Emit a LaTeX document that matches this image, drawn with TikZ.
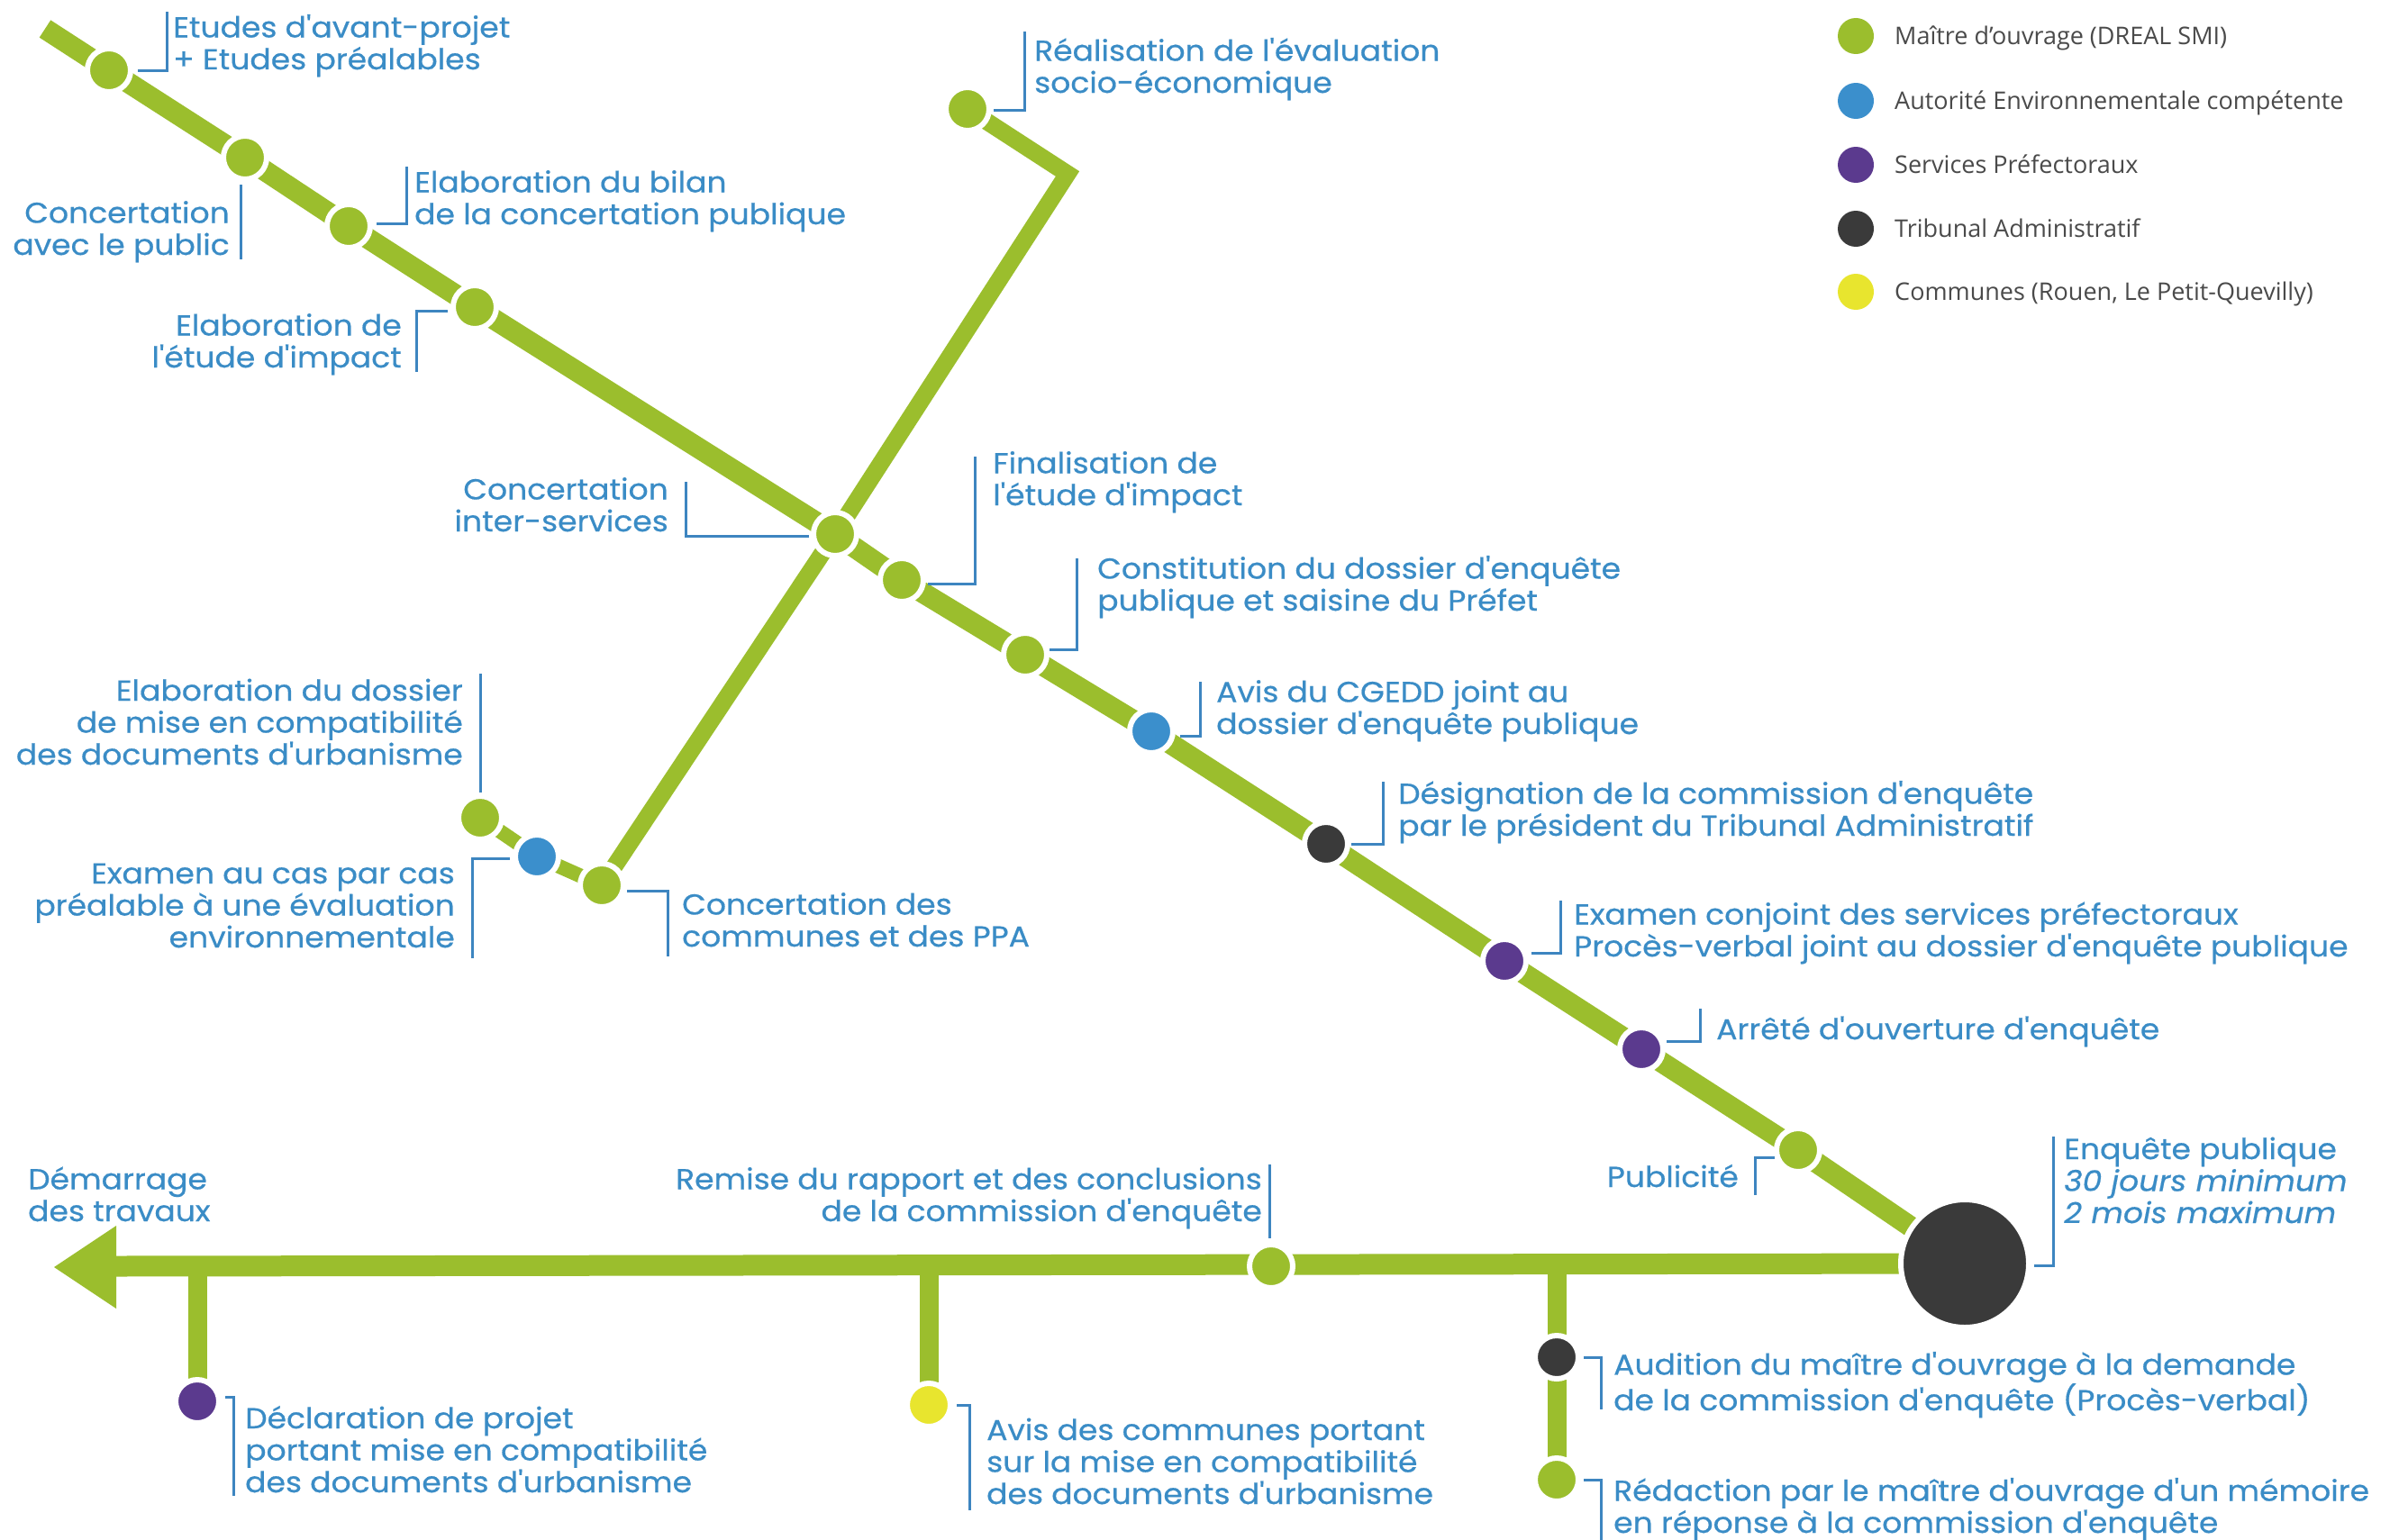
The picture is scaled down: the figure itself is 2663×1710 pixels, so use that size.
\documentclass[tikz,border=0pt]{standalone}
\usepackage{fontspec}
\setmainfont{Open Sans}
\newfontfamily\lblfont{Poppins}[FakeStretch=1.08, FakeBold=0.5]
\pgfdeclarelayer{bg}
\pgfsetlayers{bg,main}
\definecolor{lgreen}{HTML}{9BBE2D}
\definecolor{tblue}{HTML}{3A8CC6}
\definecolor{bblue}{HTML}{3D85C0}
\definecolor{dblue}{HTML}{3B8FCC}
\definecolor{dpurple}{HTML}{5B3A8E}
\definecolor{ddark}{HTML}{3A3A3A}
\definecolor{dyellow}{HTML}{E8E52E}
\definecolor{legtext}{HTML}{4A4A4A}
\begin{document}
\begin{tikzpicture}[x=1pt,y=-1pt,
  dot/.style={circle, inner sep=0pt, minimum size=48pt, draw=white, line width=6pt},
  gdot/.style={dot, fill=lgreen},
  bdot/.style={dot, fill=dblue},
  pdot/.style={dot, fill=dpurple},
  kdot/.style={dot, fill=ddark},
  ydot/.style={dot, fill=dyellow},
  legdot/.style={circle, inner sep=0pt, minimum size=40pt},
  lbl/.style={font=\lblfont\fontsize{32}{35.5}\selectfont, text=tblue, inner sep=0pt},
  lblL/.style={lbl, align=left, anchor=base west},
  lblR/.style={lbl, align=right, anchor=base east},
  legl/.style={font=\fontsize{27}{30}\selectfont, text=legtext, inner sep=0pt, anchor=base west},
  brk/.style={draw=bblue, line width=3pt},
  mainline/.style={draw=lgreen, line width=23pt},
  vline/.style={draw=lgreen, line width=19pt},
  barline/.style={draw=lgreen, line width=23pt},
  branch/.style={draw=lgreen, line width=21pt}]
\begin{pgfonlayer}{bg}
\fill[white] (0,0) rectangle (2663,1710);
\end{pgfonlayer}
\useasboundingbox (0,0) rectangle (2663,1710);

% ---------- main diagonal stations
\coordinate (s) at (50,32);
\node[gdot] (m1) at (121,78) {};
\node[gdot] (m2) at (272,175) {};
\node[gdot] (m3) at (387,251) {};
\node[gdot] (m4) at (527,341) {};
\node[gdot] (m5) at (927,593) {};
\node[gdot] (m6) at (1001,644) {};
\node[gdot] (m7) at (1138,727) {};
\node[bdot] (m8) at (1278,812) {};
\node[kdot] (m9) at (1472,937) {};
\node[pdot] (m10) at (1670,1067) {};
\node[pdot] (m11) at (1822,1165) {};
\node[gdot] (m12) at (1996,1277) {};
\node[circle, inner sep=0pt, minimum size=142pt, fill=ddark, draw=white, line width=6pt] (big) at (2181,1403) {};

% ---------- V branch
\node[gdot] (v1) at (1074,121) {};
\coordinate (c) at (1185,193);
\node[gdot] (v2) at (668,983) {};
\node[bdot] (v3) at (596,951) {};
\node[gdot] (v4) at (533,908) {};

% ---------- bottom bar
\coordinate (a) at (129,1406);
\node[gdot] (r1) at (1411,1406) {};
\coordinate (j1) at (219,1406);
\coordinate (j2) at (1031,1406);
\coordinate (j3) at (1728,1406);
\node[pdot] (p1) at (219,1556) {};
\node[ydot] (p2) at (1031,1560) {};
\node[kdot] (p3) at (1728,1507) {};
\node[gdot] (p4) at (1728,1643) {};

\begin{pgfonlayer}{bg}
\draw[mainline] (s) -- (m1.center) -- (m2.center) -- (m3.center) -- (m4.center) -- (m5.center) -- (m6.center) -- (m7.center) -- (m8.center) -- (m9.center) -- (m10.center) -- (m11.center) -- (m12.center) -- (big.center);
\draw[vline] (v1.center) -- (c) -- (m5.center) -- (v2.center);
\draw[vline, line width=16pt] (v2.center) -- (v3.center) -- (v4.center);
\draw[barline] (big.center) -- (a);
\fill[lgreen] (60,1407) -- (129,1361) -- (129,1453) -- cycle;
\draw[branch] (j1) -- (p1.center);
\draw[branch] (j2) -- (p2.center);
\draw[branch] (j3) -- (p4.center);
\end{pgfonlayer}

% ---------- labels (anchor = baseline of last line)
\node[lblL] (L1) at (192,77) {Etudes d'avant-projet\\+ Etudes préalables};
\node[lblR] (L2) at (255,283) {Concertation\\avec le public};
\node[lblL] (L3) at (460,249) {Elaboration du bilan\\de la concertation publique};
\node[lblR] (L4) at (446,408) {Elaboration de\\l'étude d'impact};
\node[lblL] (L5) at (1148,103) {Réalisation de l'évaluation\\socio-économique};
\node[lblR] (L6) at (742,590) {Concertation\\inter-services};
\node[lblL] (L7) at (1102,561) {Finalisation de\\l'étude d'impact};
\node[lblL] (L8) at (1218,678) {Constitution du dossier d'enquête\\publique et saisine du Préfet};
\node[lblL] (L9) at (1350,815) {Avis du CGEDD joint au\\dossier d'enquête publique};
\node[lblL] (L10) at (1552,928) {Désignation de la commission d'enquête\\par le président du Tribunal Administratif};
\node[lblL] (L11) at (1747,1062) {Examen conjoint des services préfectoraux\\Procès-verbal joint au dossier d'enquête publique};
\node[lblL] (L12) at (1905,1154) {Arrêté d'ouverture d'enquête};
\node[lblR] (L13) at (1930,1318) {Publicité};
\node[lblL] (L14) at (2291,1358) {Enquête publique\\\textit{30 jours minimum}\\\textit{2 mois maximum}};
\node[lblL] (L15) at (31,1356) {Démarrage\\des travaux};
\node[lblR] (L16) at (1401,1356) {Remise du rapport et des conclusions\\de la commission d'enquête};
\node[lblL] (L17) at (272,1657) {Déclaration de projet\\portant mise en compatibilité\\des documents d'urbanisme};
\node[lblL] (L18) at (1095,1670) {Avis des communes portant\\sur la mise en compatibilité\\des documents d'urbanisme};
\node[lblL] (L19) at (1791,1566) {Audition du maître d'ouvrage à la demande\\de la commission d'enquête (Procès-verbal)};
\node[lblL] (L20) at (1791,1702) {Rédaction par le maître d'ouvrage d'un mémoire\\en réponse à la commission d'enquête};
\node[lblR] (L21) at (505,1052) {Examen au cas par cas\\préalable à une évaluation\\environnementale};
\node[lblR] (L22) at (514,849) {Elaboration du dossier\\de mise en compatibilité\\des documents d'urbanisme};
\node[lblL] (L23) at (757,1051) {Concertation des\\communes et des PPA};

% ---------- brackets
\draw[brk] (153,78) -- (185,78) -- (185,13);
\draw[brk] (267,205) -- (267,288);
\draw[brk] (418,248) -- (451,248) -- (451,185);
\draw[brk] (497,345) -- (462,345) -- (462,413);
\draw[brk] (1103,122) -- (1137,122) -- (1137,35);
\draw[brk] (898,595) -- (761,595) -- (761,535);
\draw[brk] (1030,648) -- (1082,648) -- (1082,507);
\draw[brk] (1165,721) -- (1195,721) -- (1195,620);
\draw[brk] (1310,817) -- (1332,817) -- (1332,757);
\draw[brk] (1500,937) -- (1535,937) -- (1535,868);
\draw[brk] (1700,1058) -- (1732,1058) -- (1732,1000);
\draw[brk] (1850,1156) -- (1887,1156) -- (1887,1120);
\draw[brk] (1970,1285) -- (1948,1285) -- (1948,1327);
\draw[brk] (2258,1405) -- (2279,1405) -- (2279,1262);
\draw[brk] (1409,1293) -- (1409,1375);
\draw[brk] (250,1551) -- (259,1551) -- (259,1661);
\draw[brk] (1062,1560) -- (1076,1560) -- (1076,1677);
\draw[brk] (1758,1507) -- (1777,1507) -- (1777,1565);
\draw[brk] (1758,1643) -- (1777,1643) -- (1777,1710);
\draw[brk] (566,953) -- (524,953) -- (524,1064);
\draw[brk] (533,748) -- (533,880);
\draw[brk] (696,989) -- (741,989) -- (741,1062);

% ---------- legend
\node[legdot, fill=lgreen] (k1) at (2060,40) {};
\node[legdot, fill=dblue] (k2) at (2060,112) {};
\node[legdot, fill=dpurple] (k3) at (2060,183) {};
\node[legdot, fill=ddark] (k4) at (2060,254) {};
\node[legdot, fill=dyellow] (k5) at (2060,324) {};
\node[legl] (t1) at (2103,49) {Maître d'ouvrage (DREAL SMI)};
\node[legl] (t2) at (2103,121) {Autorité Environnementale compétente};
\node[legl] (t3) at (2103,192) {Services Préfectoraux};
\node[legl] (t4) at (2103,263) {Tribunal Administratif};
\node[legl] (t5) at (2103,333) {Communes (Rouen, Le Petit-Quevilly)};
\end{tikzpicture}
\end{document}
